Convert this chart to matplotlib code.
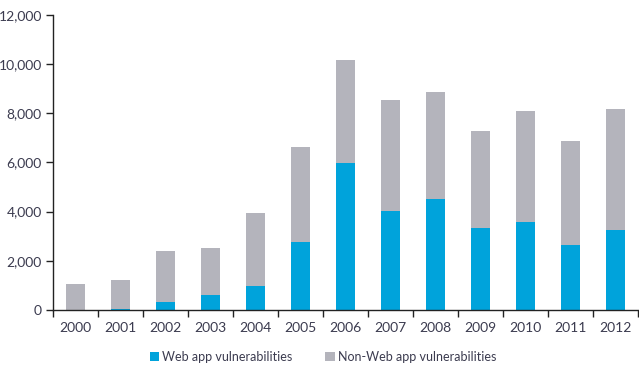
import numpy as np
import matplotlib.pyplot as plt
from matplotlib.ticker import FuncFormatter, FixedLocator

# values
years = ['2000', '2001', '2002', '2003', '2004', '2005', '2006',
         '2007', '2008', '2009', '2010', '2011', '2012']
web = [0, 40, 340, 620, 990, 2760, 5980, 4020, 4510, 3330, 3580, 2640, 3250]
total = [1060, 1220, 2400, 2520, 3940, 6620, 10160, 8540, 8860, 7280, 8090, 6870, 8170]
non_web = [t - w for t, w in zip(total, web)]

blue = '#00a3db'
grey = '#b4b4bc'
txt = '#3b3b4f'

plt.rcParams['font.family'] = ['Lato', 'DejaVu Sans']

fig = plt.figure(figsize=(6.39, 3.70), dpi=100)
ax = fig.add_axes([53 / 639, 60 / 370, 585 / 639, 295.3 / 370])

x = np.arange(len(years))
ax.bar(x, web, width=0.42, color=blue, label='Web app vulnerabilities')
ax.bar(x, non_web, bottom=web, width=0.42, color=grey,
       label='Non-Web app vulnerabilities')

ax.set_xlim(-0.5, len(years) - 0.5)
ax.set_ylim(0, 12000)
ax.set_yticks(range(0, 12001, 2000))
ax.yaxis.set_major_formatter(FuncFormatter(lambda v, p: f'{int(v):,}'))

ax.set_xticks(x)
ax.set_xticklabels(years)
ax.tick_params(axis='x', which='major', length=0, pad=9)
ax.xaxis.set_minor_locator(FixedLocator(np.arange(-0.5, len(years), 1)))
ax.tick_params(axis='x', which='minor', length=5, width=1, color='#222222')
ax.tick_params(axis='y', length=5, width=1, color='#222222', pad=3)
ax.tick_params(labelsize=10, labelcolor=txt)

for s in ['top', 'right']:
    ax.spines[s].set_visible(False)
for s in ['left', 'bottom']:
    ax.spines[s].set_color('#222222')
    ax.spines[s].set_linewidth(1)

leg = fig.legend(loc='center', bbox_to_anchor=(323 / 639, 1 - 357 / 370),
                 ncol=2, frameon=False, fontsize=9, handlelength=0.75,
                 handleheight=0.75, handletextpad=0.25, columnspacing=2.6)
for t in leg.get_texts():
    t.set_color(txt)

fig.savefig('out.png', dpi=100)
